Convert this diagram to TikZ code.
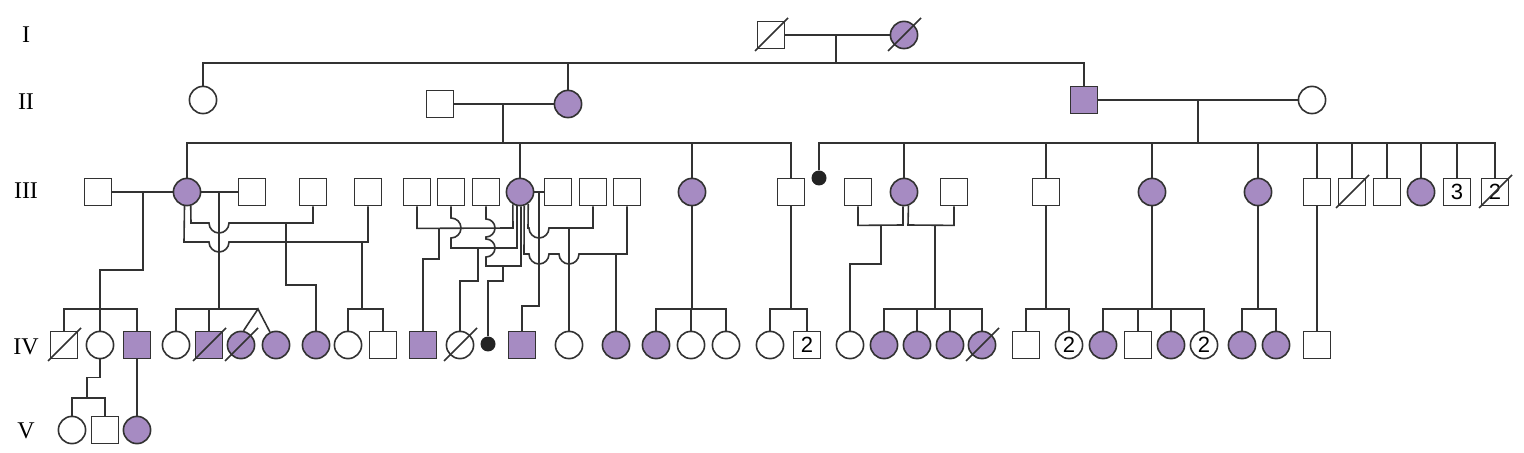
\documentclass[tikz,border=0pt]{standalone}
\usepackage{fontspec}
\setmainfont{Liberation Serif}
\newfontfamily\cifre{Liberation Sans}
\definecolor{lilla}{RGB}{166,139,194}
\definecolor{tratto}{RGB}{50,50,50}

\begin{document}
\begin{tikzpicture}[x=0.5pt,y=-0.5pt,
    linea/.style={draw=tratto,line width=0.8pt},
    maschio/.style={linea,rectangle,minimum size=13.6pt,inner sep=0pt,fill=white},
    femmina/.style={linea,circle,minimum size=13.6pt,inner sep=0pt,fill=white},
    malato/.style={maschio,fill=lilla},
    malata/.style={femmina,fill=lilla},
    puntino/.style={circle,fill=tratto!70!black,minimum size=7.5pt,inner sep=0pt},
    gen/.style={font=\fontsize{12}{12}\selectfont},
    num/.style={font=\cifre\fontsize{11}{11}\selectfont}]
    \useasboundingbox (0,0) rectangle (1524,453);

    % Generazioni
    \foreach \g/\y in {I/35,II/102,III/191,IV/347,V/431} {
      \node[gen] (lab\g) at (26,\y) {\g};
    }

    % Generazione I e II
    \node[maschio] (I1) at (771,35) {};
    \node[malata] (I2) at (904,35) {};
    \node[femmina] (II1) at (203,100) {};
    \node[maschio] (II2) at (440,104) {};
    \node[malata] (II3) at (568,104) {};
    \node[malato] (II4) at (1084,100) {};
    \node[femmina] (II5) at (1312,100) {};

    % Generazione III
    \foreach \n/\x/\s in {1/98/maschio,2/187/malata,3/252/maschio,4/313/maschio,
      5/368/maschio,6/417/maschio,7/451/maschio,8/486/maschio,9/520/malata,
      10/558/maschio,11/593/maschio,12/627/maschio,13/692/malata,14/791/maschio,
      15/858/maschio,16/904/malata,17/954/maschio,18/1046/maschio,19/1152/malata,
      20/1258/malata,21/1317/maschio,22/1352/maschio,23/1387/maschio,24/1421/malata} {
      \node[\s] (III\n) at (\x,192) {};
    }
    \node[maschio,num] (III25) at (1457,192) {3};
    \node[maschio,num] (III26) at (1495,192) {2};
    \node[puntino] (IIIp) at (819,178) {};

    % Generazione IV
    \foreach \n/\x/\s in {1/64/maschio,2/100/femmina,3/137/malato,4/176/femmina,
      5/209/malato,6/241/malata,7/276/malata,8/316/malata,9/348/femmina,
      10/383/maschio,11/423/malato,12/460/femmina,13/522/malato,14/569/femmina,
      15/616/malata,16/656/malata,17/691/femmina,18/726/femmina,19/770/femmina,
      21/850/femmina,22/884/malata,23/917/malata,24/950/malata,25/982/malata,
      26/1026/maschio,28/1103/malata,29/1138/maschio,30/1171/malata,
      32/1242/malata,33/1276/malata,34/1317/maschio} {
      \node[\s] (IV\n) at (\x,345) {};
    }
    \node[maschio,num] (IV20) at (807,345) {2};
    \node[femmina,num] (IV27) at (1069,345) {2};
    \node[femmina,num] (IV31) at (1204,345) {2};
    \node[puntino] (IVp) at (488,344) {};

    % Generazione V
    \foreach \n/\x/\s in {1/72/femmina,2/105/maschio,3/137/malata} {
      \node[\s] (V\n) at (\x,430) {};
    }

    % Deceduti
    \foreach \n in {I1,I2,III22,III26,IV1,IV5,IV6,IV12,IV25} {
      \draw[linea] (\n) ++(-16,16) -- ++(33,-33);
    }

    % I -> II
    \draw[linea] (I1.east) -- (I2.west);
    \coordinate (s1) at (836,63);
    \draw[linea] (s1 |- I1) -- (s1);
    \draw[linea] (II1.north) |- (s1) -| (II4.north);
    \draw[linea] (II3.north) -- (II3.north |- s1);

    % II -> III
    \draw[linea] (II2.east) -- (II3.west);
    \coordinate (s2) at (503,143);
    \draw[linea] (s2 |- II2) -- (s2);
    \draw[linea] (III2.north) |- (s2) -| (III14.north);
    \foreach \n in {9,13} \draw[linea] (III\n.north) -- (III\n.north |- s2);
    \draw[linea] (II4.east) -- (II5.west);
    \coordinate (s3) at (1198,143);
    \draw[linea] (s3 |- II4) -- (s3);
    \draw[linea] (IIIp.north) |- (s3) -| (III26.north);
    \foreach \n in {16,18,19,...,25} \draw[linea] (III\n.north) -- (III\n.north |- s3);

    % III2 e i suoi partner
    \draw[linea] (III1.east) -- (III2.west);
    \coordinate (a1) at (143,270);
    \coordinate (f1) at (100,309);
    \draw[linea] (a1 |- III1) -- (a1) -| (f1);
    \draw[linea] (IV1.north) |- (f1) -| (IV3.north);
    \draw[linea] (IV2.north) -- (f1);
    \coordinate (f2) at (87,398);
    \draw[linea] (IV2.south) -- ++(0,18) -| (f2);
    \draw[linea] (V1.north) |- (f2) -| (V2.north);
    \draw[linea] (IV3.south) -- (V3.north);

    \draw[linea] (III2.east) -- (III3.west);
    \coordinate (f3) at (219,309);
    \coordinate (g1) at (258,309);
    \draw[linea] (f3 |- III2) -- (f3);
    \draw[linea] (IV4.north) |- (g1);
    \draw[linea] (IV5.north) -- (IV5.north |- g1);
    \draw[linea] (IV6.80) -- (g1) -- (IV7.115);

    \draw[linea] (III2.-75) -- (191,223) -- (209,223)
      arc[start angle=180,end angle=0,radius=10] -| (III4.south);
    \coordinate (a2) at (286,223);
    \draw[linea] (a2) -- ++(0,62) -| (IV8.north);
    \draw[linea] (III2.-100) -- (184,242) -- (209,242)
      arc[start angle=180,end angle=0,radius=10] -| (III5.south);
    \coordinate (f4) at (362,309);
    \draw[linea] (362,242) -- (f4);
    \draw[linea] (IV9.north) |- (f4) -| (IV10.north);

    % III9 e i suoi partner
    \draw[linea] (III6.south) -- ++(0,22) -- (513,228) -- (III9.-120);
    \coordinate (a3) at (439,228);
    \draw[linea] (a3) -- ++(0,31) -| (IV11.north);
    \draw[linea] (III7.south) -- (451,218)
      arc[start angle=-90,end angle=90,radius=10] -- (451,248) -- (517,248) -- (III9.-102);
    \coordinate (a4) at (478,248);
    \draw[linea] (a4) -- ++(0,33) -| (IV12.north);
    \draw[linea] (III8.south) -- (486,219)
      arc[start angle=-90,end angle=90,radius=9] -- (486,239)
      arc[start angle=-90,end angle=90,radius=9] -- (486,266) -- (521,266) -- (III9.-86);
    \coordinate (a5) at (503,266);
    \draw[linea] (a5) -- ++(0,15) -| (IVp.north);
    \draw[linea] (III9.east) -- (III10.west);
    \coordinate (a6) at (539,192);
    \draw[linea] (a6) -- ++(0,114) -| (IV13.north);
    \draw[linea] (III11.south) -- (593,228) -- (549,228)
      arc[start angle=0,end angle=180,radius=10] -- (528,228) -- (III9.-55);
    \coordinate (a7) at (569,228);
    \draw[linea] (a7) -- (IV14.north);
    \draw[linea] (III12.south) -- (627,254) -- (579,254)
      arc[start angle=0,end angle=180,radius=10] -- (549,254)
      arc[start angle=0,end angle=180,radius=10] -- (524,254) -- (III9.-73);
    \coordinate (a8) at (616,254);
    \draw[linea] (a8) -- (IV15.north);

    % III13, III14
    \coordinate (f5) at (692,309);
    \draw[linea] (III13.south) -- (f5);
    \draw[linea] (IV16.north) |- (f5) -| (IV18.north);
    \draw[linea] (IV17.north) -- (IV17.north |- f5);
    \coordinate (f6) at (791,309);
    \draw[linea] (III14.south) -- (f6);
    \draw[linea] (IV19.north) |- (f6) -| (IV20.north);

    % III16 e i suoi partner
    \draw[linea] (III15.south) -- ++(0,19) -- (903,225) -- (III16.-94);
    \coordinate (a9) at (881,225);
    \draw[linea] (a9) -- ++(0,39) -| (IV21.north);
    \draw[linea] (III17.south) -- ++(0,19) -- (908,225) -- (III16.-72);
    \coordinate (a10) at (935,225);
    \coordinate (f7) at (935,309);
    \draw[linea] (a10) -- (f7);
    \draw[linea] (IV22.north) |- (f7) -| (IV25.north);
    \foreach \n in {23,24} \draw[linea] (IV\n.north) -- (IV\n.north |- f7);

    % III18 - III21
    \coordinate (f8) at (1046,309);
    \draw[linea] (III18.south) -- (f8);
    \draw[linea] (IV26.north) |- (f8) -| (IV27.north);
    \coordinate (f9) at (1152,309);
    \draw[linea] (III19.south) -- (f9);
    \draw[linea] (IV28.north) |- (f9) -| (IV31.north);
    \foreach \n in {29,30} \draw[linea] (IV\n.north) -- (IV\n.north |- f9);
    \coordinate (f10) at (1258,309);
    \draw[linea] (III20.south) -- (f10);
    \draw[linea] (IV32.north) |- (f10) -| (IV33.north);
    \draw[linea] (III21.south) -- (IV34.north);
\end{tikzpicture}
\end{document}
